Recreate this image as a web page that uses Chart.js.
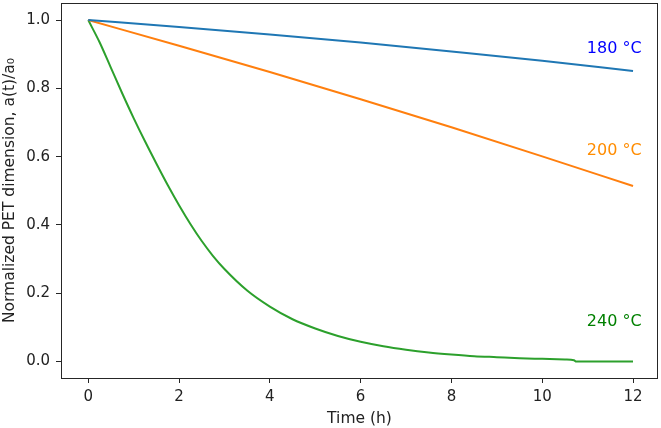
<!DOCTYPE html>
<html>
<head>
<meta charset="utf-8">
<script src="https://cdn.jsdelivr.net/npm/chart.js@4/dist/chart.umd.min.js"></script>
<style>
  html, body { margin: 0; padding: 0; background: #ffffff; }
  #wrap { width: 661px; height: 428px; }
</style>
</head>
<body>
<div id="wrap"><canvas id="shrinkChart" width="661" height="428"></canvas></div>
<script>
// values
const time180 = [0, 2, 4, 6, 8, 10, 12];
const dim180 = [1.0, 0.980, 0.958, 0.934, 0.908, 0.881, 0.851];

const time200 = [0, 2, 4, 6, 8, 10, 12];
const dim200 = [1.0, 0.925, 0.848, 0.768, 0.686, 0.601, 0.514];

const time240 = [0, 0.25, 0.5, 0.75, 1, 1.25, 1.5, 1.75, 2, 2.25, 2.5, 2.75, 3, 3.5, 4, 4.5, 5, 5.5, 6, 6.5, 7, 7.5, 8, 8.5, 9, 9.5, 10, 10.5, 10.7, 10.75, 11, 11.5, 12];
const dim240 = [1.0, 0.935, 0.86, 0.785, 0.713, 0.645, 0.58, 0.517, 0.458, 0.403, 0.353, 0.309, 0.271, 0.208, 0.161, 0.124, 0.097, 0.075, 0.058, 0.045, 0.035, 0.027, 0.021, 0.016, 0.013, 0.010, 0.008, 0.006, 0.004, 0.0, 0.0, 0.0, 0.0];

const xTicks = [0, 2, 4, 6, 8, 10, 12];
const yTicks = [0.0, 0.2, 0.4, 0.6, 0.8, 1.0];

const curveLabels = ['180 °C', '200 °C', '240 °C'];
const curveLabelX = [12.19, 12.19, 12.19];
const curveLabelY = [0.917, 0.617, 0.117];

const FONT = 'DejaVu Sans';

function toPoints(xs, ys) {
    return xs.map((x, i) => ({ x: x, y: ys[i] }));
}

/* frame round the plot area, like a matplotlib axes box */
const framePlugin = {
    id: 'frame',
    afterDraw(chart) {
        const a = chart.chartArea;
        const ctx = chart.ctx;
        ctx.save();
        ctx.strokeStyle = '#262626';
        ctx.lineWidth = 1;
        ctx.strokeRect(Math.round(a.left) + 0.5, Math.round(a.top) + 0.5,
            Math.round(a.right - a.left) - 1, Math.round(a.bottom - a.top));
        ctx.restore();
    }
};

/* temperature text next to each curve */
const curveLabelPlugin = {
    id: 'curveLabels',
    afterDatasetsDraw(chart) {
        const ctx = chart.ctx;
        const xs = chart.scales.x, ys = chart.scales.y;
        const colors = ['#0000ff', '#ff8c00', '#008000'];
        ctx.save();
        ctx.font = '16px "' + FONT + '"';
        ctx.textAlign = 'right';
        ctx.textBaseline = 'middle';
        curveLabels.forEach((t, i) => {
            ctx.fillStyle = colors[i];
            ctx.fillText(t, xs.getPixelForValue(curveLabelX[i]), ys.getPixelForValue(curveLabelY[i]));
        });
        ctx.restore();
    }
};

const ctx = document.getElementById('shrinkChart').getContext('2d');
new Chart(ctx, {
    type: 'scatter',
    data: {
        datasets: [
            { label: '180 °C', data: toPoints(time180, dim180), borderColor: '#1f77b4', cubicInterpolationMode: 'monotone' },
            { label: '200 °C', data: toPoints(time200, dim200), borderColor: '#ff7f0e', cubicInterpolationMode: 'monotone' },
            { label: '240 °C', data: toPoints(time240, dim240), borderColor: '#2ca02c', cubicInterpolationMode: 'monotone' }
        ]
    },
    options: {
        responsive: false,
        animation: false,
        showLine: true,
        elements: {
            point: { radius: 0, hoverRadius: 0 },
            line: { borderWidth: 2, fill: false }
        },
        layout: { padding: { left: 0, right: 3, top: 3, bottom: 0 } },
        plugins: {
            legend: { display: false },
            tooltip: { enabled: false }
        },
        scales: {
            x: {
                type: 'linear',
                min: -0.6,
                max: 12.55,
                afterBuildTicks: (s) => { s.ticks = xTicks.map(v => ({ value: v })); },
                afterFit: (s) => { s.height = 50; s.paddingLeft = 0; s.paddingRight = 0; },
                ticks: {
                    color: '#222222',
                    font: { family: FONT, size: 15 },
                    padding: 5,
                    maxRotation: 0,
                    callback: (v) => String(v)
                },
                grid: {
                    drawOnChartArea: false,
                    drawTicks: true,
                    tickLength: 5,
                    tickColor: '#262626'
                },
                border: { display: false },
                title: {
                    display: true,
                    text: 'Time (h)',
                    color: '#222222',
                    font: { family: FONT, size: 15.5 },
                    padding: { top: 2, bottom: 0 }
                }
            },
            y: {
                type: 'linear',
                min: -0.048,
                max: 1.05,
                afterBuildTicks: (s) => { s.ticks = yTicks.map(v => ({ value: v })); },
                afterFit: (s) => { s.width = 61; s.paddingTop = 0; s.paddingBottom = 0; },
                ticks: {
                    color: '#222222',
                    font: { family: FONT, size: 15 },
                    padding: 6,
                    callback: (v) => Number(v).toFixed(1)
                },
                grid: {
                    drawOnChartArea: false,
                    drawTicks: true,
                    tickLength: 5,
                    tickColor: '#262626'
                },
                border: { display: false },
                title: {
                    display: true,
                    text: 'Normalized PET dimension, a(t)/a₀',
                    color: '#222222',
                    font: { family: FONT, size: 15.5 },
                    padding: { top: 1, bottom: 0 }
                }
            }
        }
    },
    plugins: [framePlugin, curveLabelPlugin]
});
</script>
</body>
</html>
